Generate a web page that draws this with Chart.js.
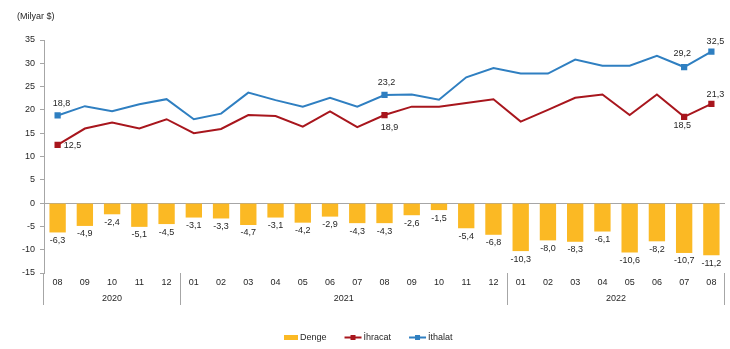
<!DOCTYPE html>
<html>
<head>
<meta charset="utf-8">
<script src="https://cdn.jsdelivr.net/npm/chart.js@4/dist/chart.umd.min.js"></script>
<style>
  body { margin: 0; background: #fff; }
  canvas { display: block; }
</style>
</head>
<body>
<canvas id="tradeChart" width="730" height="349"></canvas>
<script>
// Months Aug 2020 - Aug 2022
const months = ['08', '09', '10', '11', '12',
    '01', '02', '03', '04', '05', '06', '07', '08', '09', '10', '11', '12',
    '01', '02', '03', '04', '05', '06', '07', '08'];
const years = ['2020', '2021', '2022'];
const yearStarts = [0, 5, 17];

const denge = [-6.3, -4.9, -2.4, -5.1, -4.5, -3.1, -3.3, -4.7, -3.1, -4.2, -2.9, -4.3, -4.3,
    -2.6, -1.5, -5.4, -6.8, -10.3, -8.0, -8.3, -6.1, -10.6, -8.2, -10.7, -11.2];
const ihracat = [12.5, 16.0, 17.3, 16.0, 18.0, 15.0, 15.9, 18.9, 18.7, 16.4, 19.7, 16.3, 18.9,
    20.7, 20.7, 21.5, 22.3, 17.5, 20.0, 22.6, 23.3, 18.9, 23.3, 18.5, 21.3];
const ithalat = [18.8, 20.8, 19.7, 21.2, 22.3, 18.0, 19.2, 23.7, 22.1, 20.7, 22.6, 20.7, 23.2,
    23.3, 22.2, 27.0, 29.0, 27.8, 27.8, 30.8, 29.5, 29.5, 31.6, 29.2, 32.5];

// points that get a marker and a value label
const markedIdx = [0, 12, 23, 24];

const yTicks = { min: -15, max: 35, step: 5 };

const FAMILY = '"Liberation Sans", Arial, sans-serif';
const FONT = '9px ' + FAMILY;
const TEXT = '#262626';
const AXIS = '#a6a6a6';
const ORANGE = '#fbb924';
const RED = '#a8161d';
const BLUE = '#2f7fc1';

const fmt = v => v.toFixed(1).replace('.', ',');

// label offsets around the marked points
const lineLabelPos = {
    'İhracat': { 0: [15, 1], 12: [5, 12], 23: [-2, 9], 24: [4, -9] },
    'İthalat': { 0: [4, -12], 12: [2, -12], 23: [-2, -14], 24: [4, -10] }
};

const markerRadius = ctx => markedIdx.includes(ctx.dataIndex) ? 3 : 0;

const extras = {
    id: 'extras',
    afterDraw(chart) {
        const c = chart.ctx;
        const area = chart.chartArea;
        const xs = chart.scales.x;
        const ys = chart.scales.y;
        const px = i => xs.getPixelForValue(i);

        c.save();
        c.font = FONT;
        c.fillStyle = TEXT;
        c.textBaseline = 'middle';

        // unit caption
        c.textAlign = 'left';
        c.fillText('(Milyar $)', 17, 17);

        // bar values
        c.textAlign = 'center';
        denge.forEach((v, i) => {
            c.fillText(fmt(v), px(i), ys.getPixelForValue(v) + 8);
        });

        // line values
        [1, 2].forEach(di => {
            const ds = chart.data.datasets[di];
            const pos = lineLabelPos[ds.label];
            markedIdx.forEach(i => {
                const [dx, dy] = pos[i];
                c.fillText(fmt(ds.data[i]), px(i) + dx, ys.getPixelForValue(ds.data[i]) + dy);
            });
        });

        // month labels
        months.forEach((m, i) => c.fillText(m, px(i), area.bottom + 10));

        // year labels and group separators
        c.strokeStyle = AXIS;
        c.lineWidth = 1;
        const bottom = area.bottom + 32;
        years.forEach((y, k) => {
            const first = yearStarts[k];
            const last = k + 1 < yearStarts.length ? yearStarts[k + 1] - 1 : months.length - 1;
            c.fillText(y, (px(first) + px(last)) / 2, area.bottom + 26);
            if (k > 0) {
                const sx = Math.round((px(first - 1) + px(first)) / 2) + 0.5;
                c.beginPath();
                c.moveTo(sx, area.bottom);
                c.lineTo(sx, bottom);
                c.stroke();
            }
        });
        // left axis extension and right closing line
        [Math.round(area.left) - 0.5, Math.round(area.right) - 0.5].forEach(sx => {
            c.beginPath();
            c.moveTo(sx, area.bottom);
            c.lineTo(sx, bottom);
            c.stroke();
        });

        // legend
        const items = chart.data.datasets.map(ds => ({ label: ds.label, type: ds.type || 'bar', color: ds.backgroundColor }));
        const swW = [14, 17, 17];
        const gap = 2, itemGap = 18;
        const widths = items.map((it, k) => swW[k] + gap + c.measureText(it.label).width);
        const total = widths.reduce((a, b) => a + b, 0) + itemGap * (items.length - 1);
        let lx = Math.round(chart.width / 2 - total / 2) + 3;
        const ly = 337;
        c.textAlign = 'left';
        items.forEach((it, k) => {
            if (it.type === 'bar') {
                c.fillStyle = it.color;
                c.fillRect(lx, ly - 2, swW[k], 5);
            } else {
                c.strokeStyle = it.color;
                c.lineWidth = 2;
                c.beginPath();
                c.moveTo(lx, ly + 0.5);
                c.lineTo(lx + swW[k], ly + 0.5);
                c.stroke();
                c.fillStyle = it.color;
                c.fillRect(lx + swW[k] / 2 - 2.5, ly - 2, 5, 5);
            }
            c.fillStyle = TEXT;
            c.fillText(it.label, lx + swW[k] + gap, ly + 1);
            lx += widths[k] + itemGap;
        });

        c.restore();
    }
};

new Chart(document.getElementById('tradeChart'), {
    type: 'bar',
    data: {
        labels: months,
        datasets: [
            {
                label: 'Denge',
                data: denge,
                backgroundColor: ORANGE,
                categoryPercentage: 1,
                barPercentage: 0.6,
                order: 2
            },
            {
                label: 'İhracat',
                type: 'line',
                data: ihracat,
                borderColor: RED,
                backgroundColor: RED,
                borderWidth: 2,
                tension: 0,
                pointStyle: 'rect',
                pointRadius: markerRadius,
                pointHoverRadius: markerRadius,
                order: 1
            },
            {
                label: 'İthalat',
                type: 'line',
                data: ithalat,
                borderColor: BLUE,
                backgroundColor: BLUE,
                borderWidth: 2,
                tension: 0,
                pointStyle: 'rect',
                pointRadius: markerRadius,
                pointHoverRadius: markerRadius,
                order: 0
            }
        ]
    },
    options: {
        responsive: false,
        animation: false,
        devicePixelRatio: 1,
        layout: { padding: { top: 40, right: 1, left: 0, bottom: 0 } },
        plugins: {
            legend: { display: false },
            tooltip: { enabled: false }
        },
        scales: {
            x: {
                offset: true,
                grid: { display: false },
                border: { display: false },
                ticks: { display: false },
                afterFit(s) { s.height = 76; }
            },
            y: {
                min: yTicks.min,
                max: yTicks.max,
                ticks: {
                    stepSize: yTicks.step,
                    color: TEXT,
                    font: { family: FAMILY, size: 9 },
                    padding: 5
                },
                grid: {
                    color: ctx => ctx.tick && ctx.tick.value === 0 ? AXIS : 'rgba(0,0,0,0)',
                    tickColor: AXIS,
                    tickLength: 4
                },
                border: { color: AXIS },
                afterFit(s) { s.width = 44; }
            }
        }
    },
    plugins: [extras]
});
</script>
</body>
</html>
